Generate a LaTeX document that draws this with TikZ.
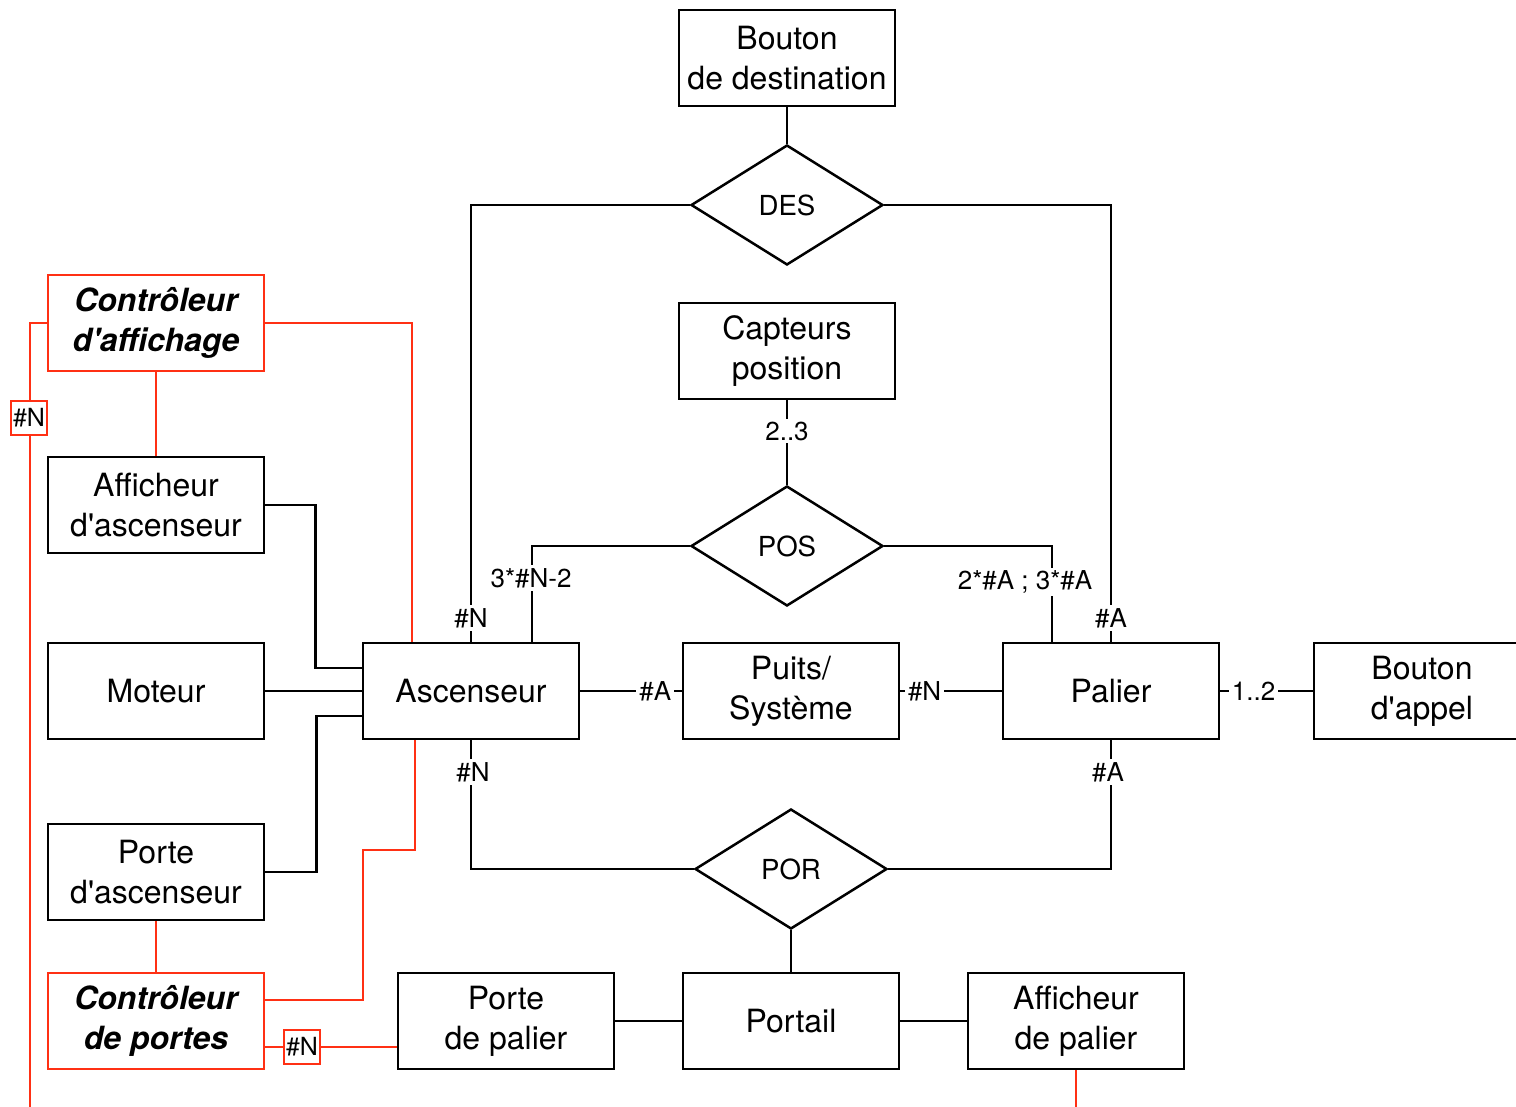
\documentclass[tikz,border=0pt]{standalone}
\usepackage{fontspec}
\setmainfont{TeX Gyre Heros}[Ligatures=TeXOff]
\usetikzlibrary{shapes.geometric,calc}
\definecolor{ctrlred}{RGB}{255,48,20}
\begin{document}
\begin{tikzpicture}[x=0.5pt,y=-0.5pt,
  entity/.style={draw, line width=1.25pt, minimum width=108pt, minimum height=48pt,
    align=center, inner sep=0pt, font=\fontsize{16}{20}\selectfont},
  ctrl/.style={entity, draw=ctrlred, font=\fontsize{16}{20}\selectfont\bfseries\itshape},
  assoc/.style={draw, diamond, line width=1.25pt, minimum width=96pt, minimum height=60pt,
    inner sep=0pt, font=\fontsize{13.8}{16}\selectfont},
  link/.style={line width=1.25pt},
  redlink/.style={line width=1.25pt, draw=ctrlred},
  card/.style={fill=white, inner sep=1.5pt, font=\fontsize{13}{15}\selectfont},
  redcard/.style={draw=ctrlred, line width=1.25pt, fill=white, inner sep=1pt,
    minimum width=17.5pt, minimum height=17pt, font=\fontsize{12.5}{14}\selectfont}
]
\useasboundingbox (0,0) rectangle (1516,1107);

% entities
\node[entity] (bdest)   at (787,58)   {Bouton\\de destination};
\node[entity] (capt)    at (787,351)  {Capteurs\\position};
\node[ctrl]   (ctrlaff) at (156,323)  {Contrôleur\\d'affichage};
\node[entity] (affasc)  at (156,505)  {Afficheur\\d'ascenseur};
\node[entity] (mot)     at (156,691)  {Moteur};
\node[entity] (asc)     at (471,691)  {Ascenseur};
\node[entity] (puits)   at (791,691)  {Puits/\\Système};
\node[entity] (pal)     at (1111,691) {Palier};
\node[entity] (bapp)    at (1422,691) {Bouton\\d'appel};
\node[entity] (porteasc) at (156,872) {Porte\\d'ascenseur};
\node[ctrl]   (ctrlport) at (156,1021) {Contrôleur\\de portes};
\node[entity] (portepal) at (506,1021) {Porte\\de palier};
\node[entity] (portail)  at (791,1021) {Portail};
\node[entity] (affpal)   at (1076,1021) {Afficheur\\de palier};

% associations
\node[assoc] (des) at (787,205) {DES};
\node[assoc] (pos) at (787,546) {POS};
\node[assoc] (por) at (791,869) {POR};

% free ends at the lower border
\coordinate (leftend)  at (30,1115);
\coordinate (affend)   at (1076,1115);

% black connectors
\draw[link] (bdest) -- (des);
\draw[link] (des.west) -| (asc.north);
\draw[link] (des.east) -| (pal.north);
\draw[link] (capt) -- (pos);
\draw[link] (pos.west) -| ($(asc.north)+(61,0)$);
\draw[link] (pos.east) -| ($(pal.north)+(-59,0)$);
\draw[link] (affasc.east) -- ++(50,0) |- ($(asc.west)+(0,-23)$);
\draw[link] (mot) -- (asc);
\draw[link] (porteasc.east) -- ++(51,0) |- ($(asc.west)+(0,25)$);
\draw[link] (asc) -- (puits) node[card, pos=0.74] {\#A};
\draw[link] (puits) -- (pal) node[card, pos=0.24] {\#N};
\draw[link] (pal) -- (bapp) node[card, pos=0.36] {1..2};
\draw[link] (asc.south) |- (por.west);
\draw[link] (pal.south) |- (por.east);
\draw[link] (por) -- (portail);
\draw[link] (portepal) -- (portail);
\draw[link] (portail) -- (affpal);

% cardinalities on the bent connectors
\node[card] (c1) at (471,618)  {\#N};
\node[card] (c2) at (1111,618) {\#A};
\node[card] (c3) at (787,431)  {2..3};
\node[card] (c4) at (531,578)  {3*\#N-2};
\node[card] (c5) at (1025,582) {2*\#A ; 3*\#A};
\node[card] (c6) at (473,772)  {\#N};
\node[card] (c7) at (1108,772) {\#A};

% controller connectors
\draw[redlink] (ctrlaff) -- (affasc);
\draw[redlink] (ctrlaff.east) -| ($(asc.north)+(-59,0)$);
\draw[redlink] (ctrlaff.west) -| (leftend);
\node[redcard] (r1) at (29,418) {\#N};
\draw[redlink] (porteasc) -- (ctrlport);
\draw[redlink] ($(ctrlport.east)+(0,-21)$) -- (363,1000) -- (363,850) -| ($(asc.south)+(-56,0)$);
\draw[redlink] ($(ctrlport.east)+(0,26)$) -- ($(portepal.west)+(0,26)$);
\node[redcard] (r2) at (302,1047) {\#N};
\draw[redlink] (affpal.south) -- (affend);
\end{tikzpicture}
\end{document}
